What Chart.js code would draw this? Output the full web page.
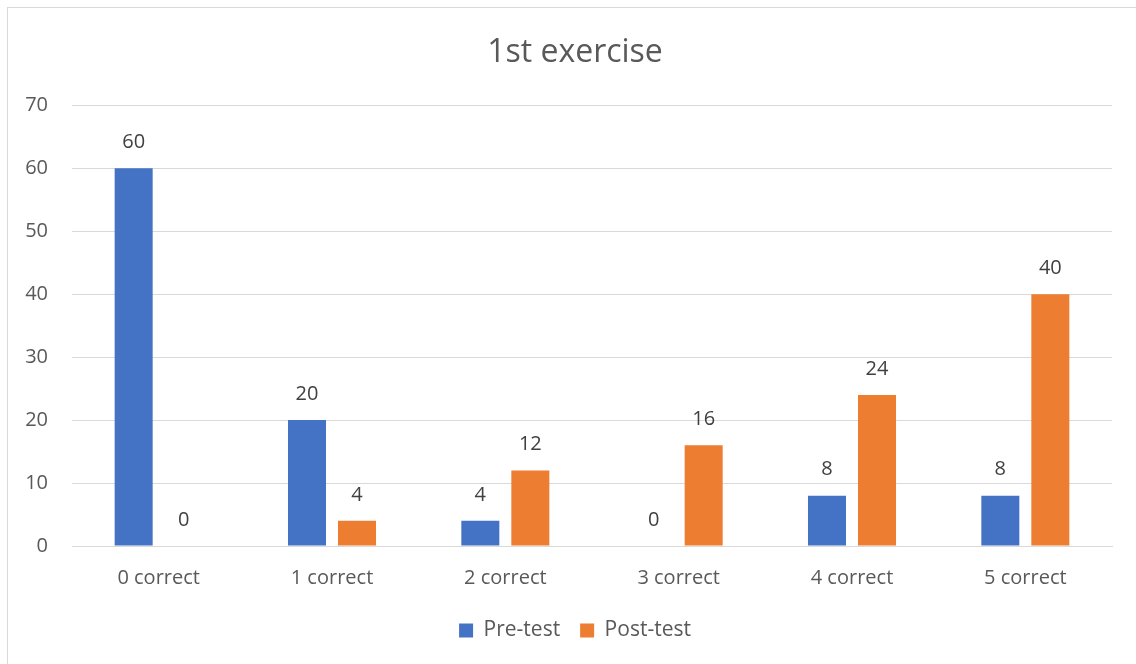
<!DOCTYPE html>
<html>
<head>
<meta charset="utf-8">
<script src="https://cdn.jsdelivr.net/npm/chart.js@4"></script>
<style>
  html, body { margin: 0; padding: 0; background: #fff; overflow: hidden; }
  #wrap { position: relative; width: 1136px; height: 664px; overflow: hidden; }
  #frame { position: absolute; left: 7px; top: 7px; width: 1140px; height: 670px; border: 1px solid #d9d9d9; pointer-events: none; }
</style>
</head>
<body>
<div id="wrap">
  <canvas id="myBarChart" width="1150" height="664"></canvas>
  <div id="frame"></div>
</div>
<script>
const categories = ['0 correct', '1 correct', '2 correct', '3 correct', '4 correct', '5 correct'];
const preTest = [60, 20, 4, 0, 8, 8];
const postTest = [0, 4, 12, 16, 24, 40];

const fontFamily = "'Open Sans', 'Noto Sans', sans-serif";

// draws the value above each bar
const valueLabels = {
  id: 'valueLabels',
  afterDatasetsDraw(chart) {
    const ctx = chart.ctx;
    ctx.save();
    ctx.font = '20px ' + fontFamily;
    ctx.fillStyle = '#404040';
    ctx.textAlign = 'center';
    ctx.textBaseline = 'middle';
    chart.data.datasets.forEach((ds, i) => {
      chart.getDatasetMeta(i).data.forEach((bar, j) => {
        ctx.fillText(ds.data[j], bar.x, bar.y - 26);
      });
    });
    ctx.restore();
  }
};

const ctx = document.getElementById('myBarChart').getContext('2d');
new Chart(ctx, {
  type: 'bar',
  data: {
    labels: categories,
    datasets: [
      { label: 'Pre-test', data: preTest, backgroundColor: '#4472C4' },
      { label: 'Post-test', data: postTest, backgroundColor: '#ED7D31' }
    ]
  },
  options: {
    responsive: false,
    animation: false,
    layout: { padding: { left: 0, right: 0, top: 0, bottom: 13 } },
    datasets: { bar: { categoryPercentage: 0.577, barPercentage: 0.76 } },
    plugins: {
      title: {
        display: true,
        text: '1st exercise',
        color: '#595959',
        font: { family: fontFamily, size: 32, weight: 'normal' },
        padding: { top: 34, bottom: 33 }
      },
      legend: {
        position: 'bottom',
        labels: {
          color: '#595959',
          font: { family: fontFamily, size: 21 },
          boxWidth: 14,
          boxHeight: 14,
          padding: 20
        }
      },
      tooltip: { enabled: false }
    },
    scales: {
      x: {
        grid: { display: false, drawTicks: false },
        border: { display: true, color: '#d9d9d9' },
        ticks: { color: '#595959', font: { family: fontFamily, size: 20 }, padding: 20 },
        afterFit(scale) { scale.height = 54; }
      },
      y: {
        min: 0,
        max: 70,
        ticks: { stepSize: 10, color: '#595959', font: { family: fontFamily, size: 20 }, padding: 24 },
        grid: { color: '#d9d9d9', drawTicks: false },
        border: { display: false },
        afterFit(scale) { scale.width = 72; }
      },
      // empty right margin so title and legend centre like the original
      yRight: {
        position: 'right',
        min: 0,
        max: 70,
        ticks: { display: false },
        grid: { display: false, drawTicks: false },
        border: { display: false },
        afterFit(scale) { scale.width = 38; }
      }
    }
  },
  plugins: [valueLabels]
});
</script>
</body>
</html>
